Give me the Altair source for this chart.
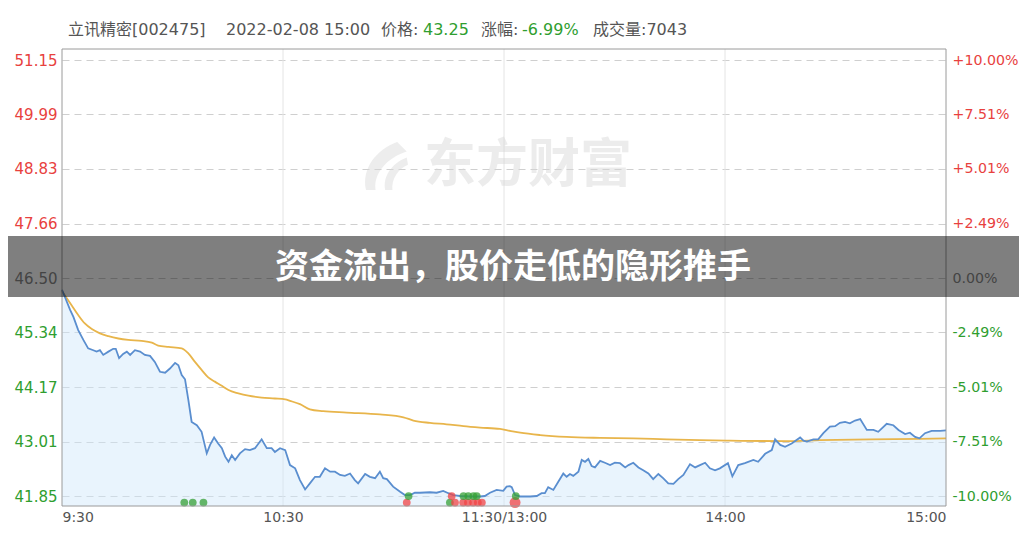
import json
import altair as alt
import pandas as pd

# ---------------- data ----------------
# minutes after 9:30 (lunch break removed: 120 = 11:30/13:00, 240 = 15:00)
price_min = [
    0, 2.2, 3.1, 4.4, 5.8, 7.1, 8.5, 9.4, 10.3, 11.2,
    12.6, 13.9, 14.6, 15.5, 16.6, 17.6, 18.5, 19.8, 21.2, 22.5,
    23.9, 25.2, 26.6, 28.0, 29.3, 30.7, 31.6, 32.5, 33.4, 34.3,
    35.2, 36.6, 37.9, 39.3, 40.2, 41.3, 42.4, 43.4, 44.3, 45.2,
    46.1, 47.0, 48.3, 49.7, 51.0, 52.4, 54.2, 55.6, 56.9, 57.8,
    59.2, 60.6, 61.9, 63.3, 64.6, 66.0, 67.3, 68.7, 70.0, 71.4,
    72.8, 74.1, 75.5, 76.8, 78.2, 79.5, 80.4, 82.3, 83.6, 85.0,
    86.3, 87.2, 88.2, 89.9, 91.8, 93.1, 94.5, 95.8, 97.2, 99.9,
    101.7, 103.5, 104.9, 106.2, 108.1, 110.8, 113.5, 114.8, 116.2, 118.0,
    119.8, 120.7, 121.6, 122.1, 123.0, 124.4, 127.1, 128.9, 130.2, 131.1,
    132.0, 133.4, 134.7, 136.1, 137.0, 137.9, 138.8, 140.2, 141.1, 142.0,
    142.9, 143.8, 144.7, 146.1, 147.4, 148.8, 150.1, 151.5, 152.9, 153.8,
    155.1, 156.5, 157.8, 159.2, 160.5, 161.9, 163.2, 164.6, 166.0, 167.3,
    168.7, 170.5, 171.9, 173.2, 174.6, 175.9, 177.3, 178.6, 180.8, 182.0,
    183.6, 185.4, 187.7, 189.0, 190.9, 192.7, 193.6, 195.0, 196.3, 198.1,
    200.4, 201.3, 202.2, 204.0, 205.3, 206.7, 208.5, 209.9, 211.2, 212.6,
    213.9, 215.3, 216.7, 218.5, 220.3, 221.6, 223.9, 225.7, 227.1, 228.9,
    230.2, 231.6, 232.8, 234.3, 236.1, 238.4, 240,
]
price_val = [
    46.25, 45.82, 45.67, 45.39, 45.18, 45.00, 44.96, 44.93, 44.96, 44.86,
    44.93, 44.99, 44.99, 44.79, 44.88, 44.93, 44.86, 44.96, 44.93, 44.86,
    44.84, 44.71, 44.50, 44.48, 44.57, 44.69, 44.64, 44.43, 44.34, 43.90,
    43.43, 43.36, 43.22, 42.76, 42.94, 43.10, 42.97, 42.87, 42.69, 42.58,
    42.72, 42.62, 42.76, 42.85, 42.83, 42.87, 43.06, 42.87, 42.87, 42.79,
    42.87, 42.83, 42.51, 42.44, 42.19, 41.99, 42.12, 42.26, 42.26, 42.44,
    42.37, 42.37, 42.30, 42.28, 42.33, 42.19, 42.12, 42.32, 42.26, 42.23,
    42.37, 42.23, 42.21, 42.05, 41.94, 41.87, 41.87, 41.92, 41.92, 41.93,
    41.92, 41.96, 41.91, 41.87, 41.85, 41.84, 41.84, 41.85, 41.92, 41.98,
    41.96, 42.05, 42.06, 42.04, 41.87, 41.84, 41.84, 41.85, 41.91, 41.91,
    42.04, 41.98, 42.15, 42.33, 42.26, 42.32, 42.28, 42.37, 42.62, 42.58,
    42.64, 42.49, 42.46, 42.60, 42.56, 42.51, 42.56, 42.55, 42.46, 42.51,
    42.56, 42.46, 42.40, 42.33, 42.21, 42.32, 42.23, 42.12, 42.11, 42.21,
    42.30, 42.53, 42.46, 42.51, 42.56, 42.44, 42.40, 42.44, 42.55, 42.27,
    42.51, 42.55, 42.62, 42.58, 42.75, 42.83, 43.06, 42.94, 42.90, 42.97,
    43.10, 43.03, 43.01, 43.06, 43.06, 43.19, 43.33, 43.34, 43.41, 43.43,
    43.40, 43.46, 43.49, 43.26, 43.26, 43.22, 43.39, 43.36, 43.26, 43.17,
    43.20, 43.11, 43.08, 43.19, 43.24, 43.24, 43.25,
]

avg_min = [
    0, 2.6, 4.4, 6.2, 8.1, 10.3, 12.6, 15.3, 18.0, 21.6,
    24.4, 26.1, 28.9, 32.5, 34.3, 36.1, 37.9, 39.7, 41.5, 43.4,
    45.2, 47.9, 50.6, 54.2, 57.8, 60.6, 61.9, 64.6, 67.3, 70.9,
    77.3, 86.3, 92.7, 95.4, 99.9, 104.4, 109.0, 113.5, 118.9, 121.6,
    124.4, 129.8, 137.0, 146.1, 155.1, 164.2, 173.2, 181.4, 196.8, 205.8,
    219.4, 232.9, 240,
]
avg_val = [
    46.22, 45.92, 45.71, 45.53, 45.41, 45.32, 45.26, 45.21, 45.18, 45.16,
    45.12, 45.06, 45.03, 45.00, 44.89, 44.71, 44.54, 44.38, 44.29, 44.20,
    44.11, 44.04, 43.99, 43.95, 43.93, 43.91, 43.88, 43.81, 43.70, 43.66,
    43.63, 43.59, 43.53, 43.46, 43.41, 43.38, 43.34, 43.31, 43.28, 43.24,
    43.20, 43.15, 43.11, 43.09, 43.08, 43.06, 43.04, 43.03, 43.02, 43.04,
    43.06, 43.07, 43.08,
]

# big-order markers along the bottom
sig_min = [33.2, 35.5, 38.4, 93.6, 94.1, 105.3, 105.8, 106.7, 108.9, 110.2,
           111.6, 112.9, 114.0, 109.0, 110.3, 111.7, 112.6, 123.0, 123.2]
sig_val = [41.71, 41.71, 41.71, 41.71, 41.85, 41.71, 41.85, 41.71, 41.71, 41.71,
           41.71, 41.71, 41.71, 41.85, 41.85, 41.85, 41.85, 41.71, 41.85]
sig_side = ["buy", "buy", "buy", "sell", "buy", "buy", "sell", "sell", "sell", "sell",
            "sell", "sell", "sell", "buy", "buy", "buy", "buy", "sell", "buy"]
sig_lot = [1, 1, 1, 1, 1, 1, 1, 1, 1, 1, 1, 1, 1, 1, 1, 1, 1, 2, 1]

prev_close = 46.50
y_ticks = [51.15, 49.99, 48.83, 47.66, 46.50, 45.34, 44.17, 43.01, 41.85]
left_labels = ["51.15", "49.99", "48.83", "47.66", "46.50", "45.34", "44.17", "43.01", "41.85"]
right_labels = ["+10.00%", "+7.51%", "+5.01%", "+2.49%", "0.00%", "-2.49%", "-5.01%", "-7.51%", "-10.00%"]
x_ticks = [0, 60, 120, 180, 240]
x_labels = ["9:30", "10:30", "11:30/13:00", "14:00", "15:00"]
grid_x = [60, 120, 180]

header_parts = ["立讯精密[002475]", "2022-02-08 15:00", "价格:", "43.25", "涨幅:", "-6.99%", "成交量:7043"]
title_text = "资金流出，股价走低的隐形推手"
watermark_text = "东方财富"

# ---------------- style ----------------
W, H = 884, 457
PAD = {"left": 54, "top": 41, "right": 73, "bottom": 20}
RED = "#e8413e"
GREEN = "#2f9e2f"
MID = "#888888"
LBL_FONT = "DejaVu Sans"
CJK_FONT = "DejaVu Sans, Noto Sans CJK SC"
Y_DOMAIN = [41.637, 51.385]

color_expr = (f"datum.value > {prev_close} ? '{RED}' : "
              f"(datum.value < {prev_close} ? '{GREEN}' : '{MID}')")
left_expr = f"{json.dumps(left_labels)}[indexof({json.dumps(y_ticks)}, datum.value)]"
right_expr = f"{json.dumps(right_labels)}[indexof({json.dumps(y_ticks)}, datum.value)]"
x_expr = f"{json.dumps(x_labels)}[indexof({json.dumps(x_ticks)}, datum.value)]"

y_scale = alt.Scale(domain=Y_DOMAIN, nice=False, zero=False)
x_scale = alt.Scale(domain=[0, 240], nice=False, zero=False)

x_enc = alt.X("m:Q", scale=x_scale, axis=alt.Axis(
    values=x_ticks, labelExpr=x_expr, grid=False, domain=False, ticks=False,
    labelFlush=True, labelPadding=4, labelFont=LBL_FONT, labelFontSize=14,
    labelColor="#555555", title=None))

y_enc = alt.Y("p:Q", scale=y_scale, axis=alt.Axis(
    values=y_ticks, labelExpr=left_expr, labelColor={"expr": color_expr},
    grid=True, gridColor="#cfcfcf", gridDash=[7, 5], gridWidth=1,
    domain=False, ticks=False, labelPadding=5, labelFont=LBL_FONT,
    labelFontSize=15, title=None))

df_price = pd.DataFrame({"m": price_min, "p": price_val})
df_avg = pd.DataFrame({"m": avg_min, "p": avg_val})
df_sig = pd.DataFrame({"m": sig_min, "p": sig_val, "side": sig_side, "lot": sig_lot})
df_grid = pd.DataFrame({"m": grid_x})
df_ticks = pd.DataFrame({"p": y_ticks})
one = pd.DataFrame({"k": [0]})

vrules = alt.Chart(df_grid).mark_rule(color="#e4e4e4", strokeWidth=1).encode(x=x_enc)
area = alt.Chart(df_price).mark_area(color="#cfe6fa", opacity=0.45).encode(
    x=x_enc, y=y_enc, y2=alt.datum(Y_DOMAIN[0]))
avg_line = alt.Chart(df_avg).mark_line(color="#e8b54b", strokeWidth=1.8,
                                       interpolate="monotone").encode(x=x_enc, y=y_enc)
price_line = alt.Chart(df_price).mark_line(color="#5a8ecf", strokeWidth=1.8).encode(
    x=x_enc, y=y_enc)
dots = alt.Chart(df_sig).mark_circle(opacity=0.75).encode(
    x=x_enc, y=y_enc,
    color=alt.Color("side:N", scale=alt.Scale(domain=["buy", "sell"],
                                              range=["#35a035", "#f04444"]), legend=None),
    size=alt.Size("lot:Q", scale=alt.Scale(domain=[1, 2], range=[60, 120]), legend=None))

main = alt.layer(vrules, area, avg_line, price_line, dots)

right = alt.Chart(df_ticks).mark_rule(opacity=0).encode(
    y=alt.Y("p:Q", scale=y_scale, axis=alt.Axis(
        orient="right", values=y_ticks, labelExpr=right_expr,
        labelColor={"expr": color_expr}, grid=False, domain=False, ticks=False,
        labelPadding=6, labelFont=LBL_FONT, labelFontSize=14.2, title=None)))

wm = alt.Chart(one).mark_text(
    text=watermark_text, font="Noto Sans CJK SC", fontWeight="bold", fontSize=52,
    color="#d6d6d6", opacity=0.45, align="center", baseline="middle").encode(
    x=alt.value(466), y=alt.value(117))
logo = alt.Chart(one).mark_point(
    shape="M0.55,-1 C-0.3,-0.7 -0.95,0.1 -0.75,1 L-0.35,1 C-0.45,0.3 0.15,-0.35 0.95,-0.6 Z "
          "M0.95,-0.35 C0.3,-0.1 -0.05,0.45 0.05,1 L0.35,1 C0.3,0.55 0.6,0.1 1,-0.05 Z",
    filled=True, fill="#d6d6d6", opacity=0.45, strokeWidth=0, size=2300).encode(
    x=alt.value(322), y=alt.value(117))

frame = alt.Chart(one).mark_rect(filled=False, stroke="#9a9a9a", strokeWidth=1).encode(
    x=alt.value(0), x2=alt.value(W), y=alt.value(0), y2=alt.value(H))

banner = alt.Chart(one).mark_rect(color="black", opacity=0.5).encode(
    x=alt.value(-PAD["left"]), x2=alt.value(W + PAD["right"]),
    y=alt.value(187), y2=alt.value(248))
title = alt.Chart(one).mark_text(
    text=title_text, font="Noto Sans CJK SC", fontWeight="bold", fontSize=34,
    color="white", align="center", baseline="middle").encode(
    x=alt.value(451), y=alt.value(219))

header_x = [6, 164, 319, 361, 419, 460, 531]
header_color = ["#555555", "#555555", "#555555", GREEN, "#555555", GREEN, "#555555"]
headers = [
    alt.Chart(one).mark_text(text=t, font=CJK_FONT, fontSize=16, color=c,
                             align="left", baseline="middle").encode(
        x=alt.value(hx), y=alt.value(-19))
    for t, hx, c in zip(header_parts, header_x, header_color)
]

chart = alt.layer(main, right, wm, logo, frame, banner, title, *headers).resolve_scale(
    y="independent"
).properties(
    width=W, height=H,
    padding=PAD,
    autosize=alt.AutoSizeParams(type="none"),
    background="white",
).configure_view(strokeWidth=0)

chart.save("out.html", embed_options={"renderer": "svg", "actions": False})
